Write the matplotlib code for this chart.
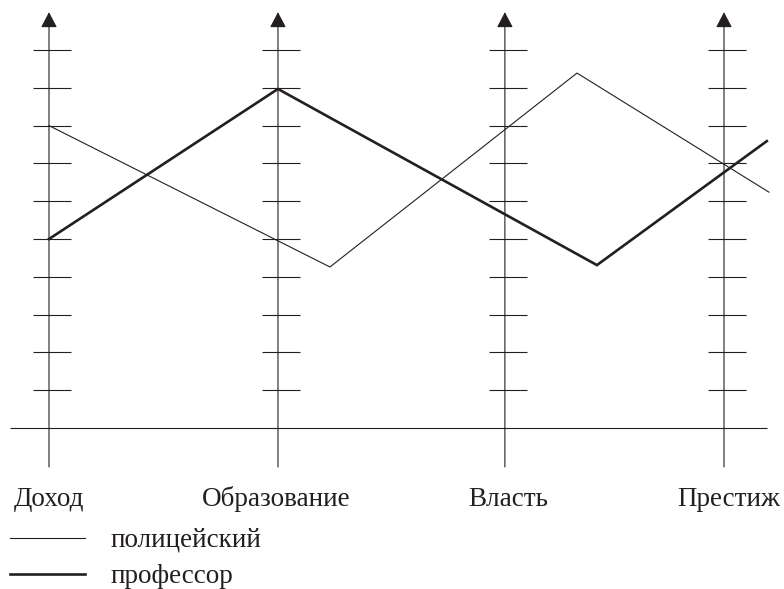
import matplotlib
matplotlib.use("Agg")
import matplotlib.pyplot as plt

# ---- data ----
categories = ['Доход', 'Образование', 'Власть', 'Престиж']
axis_pos = [0.0, 1.0, 1.991, 2.948]
tick_levels = [1, 2, 3, 4, 5, 6, 7, 8, 9, 10]

police_x = [0.0, 1.227, 2.306, 3.144]
police_y = [8.0, 4.26, 9.39, 6.24]
prof_x = [0.0, 1.0, 2.393, 3.135]
prof_y = [5.0, 8.97, 4.31, 7.59]

series_labels = ['полицейский', 'профессор']

INK = '#231f20'
FS = 19.5
label_shift_px = [0, -2, 3, 5]
plt.rcParams['font.family'] = ['Liberation Serif', 'DejaVu Serif']

fig = plt.figure(figsize=(7.84, 5.89), dpi=100)
ax = fig.add_axes([0, 0, 1, 1])
ax.set_xlim(-0.214, 3.210)
ax.set_ylim(-4.259, 11.323)
ax.axis('off')

# baseline
ax.hlines(0, -0.170, 3.135, color=INK, lw=0.8)

for xp, name, dx in zip(axis_pos, categories, label_shift_px):
    ax.annotate('', xy=(xp, 11.0), xytext=(xp, -1.03),
                arrowprops=dict(arrowstyle='-|>,head_length=9.5,head_width=5',
                                mutation_scale=1, color=INK, lw=0.8,
                                shrinkA=0, shrinkB=0))
    ax.hlines(tick_levels, xp - 0.070, xp + 0.096, color=INK, lw=0.8)
    ax.annotate(name, xy=(xp, -1.83), xytext=(dx * 0.72, -1.5),
                textcoords='offset points', ha='center', va='center',
                fontsize=FS, color=INK)

l1, = ax.plot(police_x, police_y, color=INK, lw=0.8, solid_joinstyle='miter')
l2, = ax.plot(prof_x, prof_y, color=INK, lw=1.9, solid_joinstyle='miter')

leg = fig.legend([l1, l2], series_labels, loc='upper left',
                 bbox_to_anchor=(10 / 784, 1 - 528 / 589), frameon=False,
                 fontsize=FS, handlelength=2.77, handletextpad=0.96,
                 labelspacing=0.42, borderaxespad=0, borderpad=0)
for t in leg.get_texts():
    t.set_color(INK)

fig.savefig('out.png', dpi=100)
